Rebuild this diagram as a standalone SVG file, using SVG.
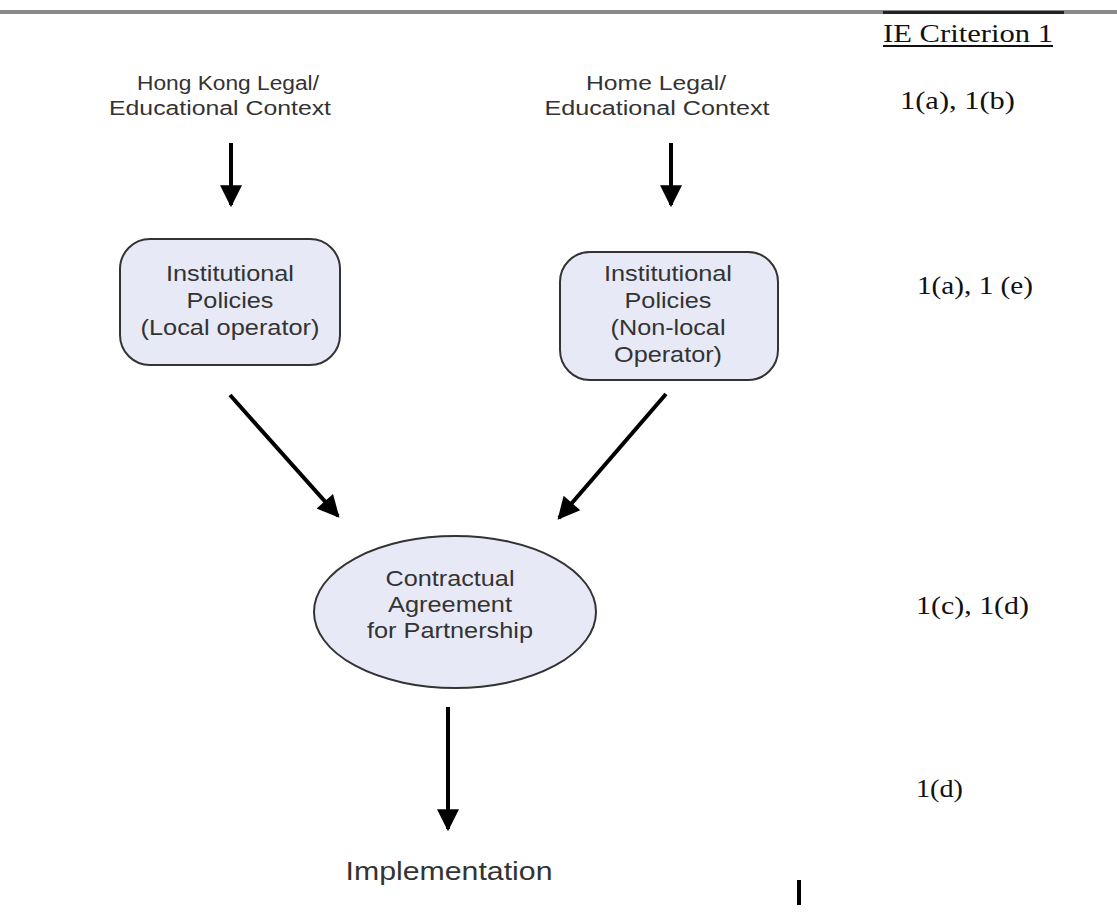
<svg xmlns="http://www.w3.org/2000/svg" width="1117" height="912" viewBox="0 0 1117 912">
<style>
.lbl{font-family:"Liberation Sans",Arial,sans-serif;font-size:22px;fill:#333;text-anchor:middle}
.ctx{font-size:20px}
.crit{font-family:"Liberation Serif","Times New Roman",serif;font-size:25px;fill:#111}
.shape{fill:#e7eaf6;stroke:#333;stroke-width:2}
.conn{stroke:#000;stroke-width:4;fill:none;marker-end:url(#ah)}
</style>
<defs>
<marker id="ah" viewBox="0 0 10 10" refX="9" refY="5" markerWidth="6.5" markerHeight="5.5" orient="auto" markerUnits="strokeWidth">
<path d="M0,0 L10,5 L0,10 z" fill="#000"/>
</marker>
</defs>
<rect width="1117" height="912" fill="#fff"/>
<rect x="0" y="10" width="1117" height="4" fill="#8a8a8a"/>
<rect x="883" y="11" width="181" height="3" fill="#222"/>
<g id="criteria">
<text class="crit" x="883" y="42" textLength="170" lengthAdjust="spacingAndGlyphs">IE Criterion 1</text>
<rect x="883" y="45" width="170" height="2" fill="#111"/>
<text class="crit" x="900" y="109" textLength="115" lengthAdjust="spacingAndGlyphs">1(a), 1(b)</text>
<text class="crit" x="917" y="294" textLength="116" lengthAdjust="spacingAndGlyphs">1(a), 1 (e)</text>
<text class="crit" x="916" y="614" textLength="113" lengthAdjust="spacingAndGlyphs">1(c), 1(d)</text>
<text class="crit" x="916" y="797" textLength="47" lengthAdjust="spacingAndGlyphs">1(d)</text>
</g>
<g id="hk-context">
<text class="lbl ctx" x="228" y="90" textLength="182" lengthAdjust="spacingAndGlyphs">Hong Kong Legal/</text>
<text class="lbl ctx" x="220" y="115" textLength="222" lengthAdjust="spacingAndGlyphs">Educational Context</text>
</g>
<g id="home-context">
<text class="lbl ctx" x="656" y="90" textLength="140" lengthAdjust="spacingAndGlyphs">Home Legal/</text>
<text class="lbl ctx" x="657" y="115" textLength="225" lengthAdjust="spacingAndGlyphs">Educational Context</text>
</g>
<g id="local-policies">
<rect class="shape" x="120" y="239" width="220" height="126" rx="30" ry="30"/>
<text class="lbl" x="230" y="281" textLength="128" lengthAdjust="spacingAndGlyphs">Institutional</text>
<text class="lbl" x="230" y="308" textLength="87" lengthAdjust="spacingAndGlyphs">Policies</text>
<text class="lbl" x="230" y="335" textLength="179" lengthAdjust="spacingAndGlyphs">(Local operator)</text>
</g>
<g id="nonlocal-policies">
<rect class="shape" x="560" y="252" width="218" height="128" rx="30" ry="30"/>
<text class="lbl" x="668" y="281" textLength="128" lengthAdjust="spacingAndGlyphs">Institutional</text>
<text class="lbl" x="668" y="308" textLength="87" lengthAdjust="spacingAndGlyphs">Policies</text>
<text class="lbl" x="668" y="335" textLength="115" lengthAdjust="spacingAndGlyphs">(Non-local</text>
<text class="lbl" x="668" y="362" textLength="108" lengthAdjust="spacingAndGlyphs">Operator)</text>
</g>
<g id="agreement">
<ellipse class="shape" cx="455" cy="612" rx="141" ry="76"/>
<text class="lbl" x="450" y="586" textLength="129" lengthAdjust="spacingAndGlyphs">Contractual</text>
<text class="lbl" x="450" y="612" textLength="124" lengthAdjust="spacingAndGlyphs">Agreement</text>
<text class="lbl" x="450" y="638" textLength="166" lengthAdjust="spacingAndGlyphs">for Partnership</text>
</g>
<g id="implementation">
<text class="lbl" x="449" y="880" style="font-size:25px" textLength="207" lengthAdjust="spacingAndGlyphs">Implementation</text>
</g>
<g id="connectors">
<line class="conn" x1="231" y1="143" x2="231" y2="205"/>
<line class="conn" x1="671" y1="143" x2="671" y2="205"/>
<line class="conn" x1="230" y1="395" x2="338" y2="516"/>
<line class="conn" x1="666" y1="394" x2="559" y2="518"/>
<line class="conn" x1="448" y1="707" x2="448" y2="829"/>
</g>
<rect x="797" y="880" width="4" height="25" fill="#000"/>
</svg>
